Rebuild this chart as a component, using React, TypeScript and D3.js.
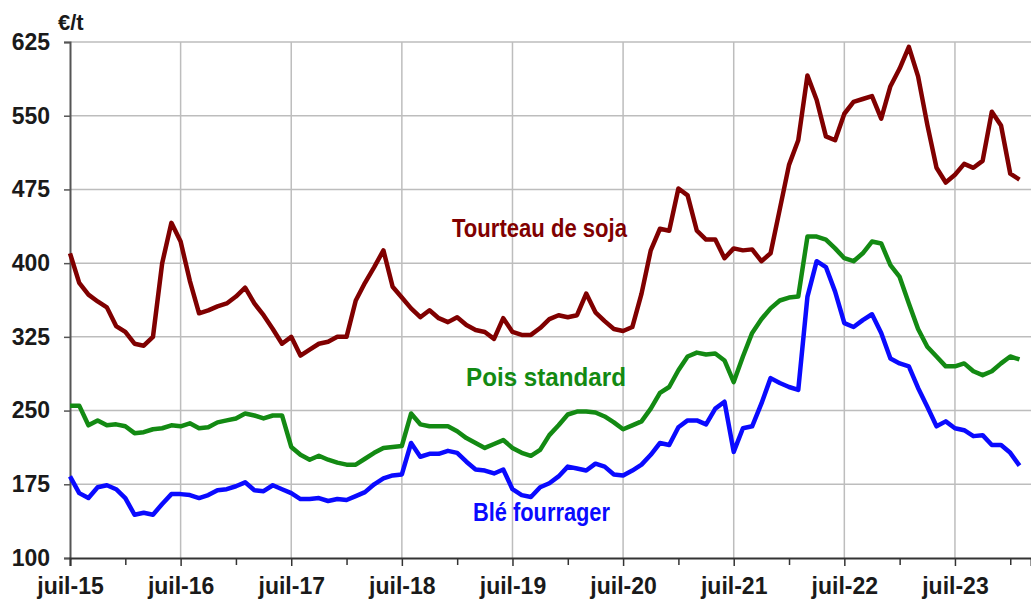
import React, { useEffect, useRef } from 'react';
import * as d3 from 'd3';

// monthly prices, juil-15 .. févr-24 (€/t)
const tourteauSoja = [
  410, 380, 368, 361, 355, 336, 330, 318, 316, 325, 400, 441,
  422, 382, 349, 352, 356, 359, 366, 375, 359, 347, 333, 318,
  325, 306, 312, 318, 320, 325, 325, 362, 380, 396, 413, 376,
  365, 354, 345, 352, 344, 340, 345, 337, 332, 330, 323, 344,
  330, 327, 327, 334, 343, 347, 345, 347, 369, 350, 341, 333,
  331, 335, 369, 413, 435, 433, 476, 469, 433, 424, 424, 405,
  415, 413, 414, 402, 410, 455, 500, 525, 591, 566, 529, 525,
  552, 564, 567, 570, 547, 580, 598, 620, 590, 541, 497, 482,
  490, 501, 497, 504, 554, 540, 491, 485,
];

const poisStandard = [
  255, 255, 235, 240, 235, 236, 234, 227, 228, 231, 232, 235,
  234, 237, 232, 233, 238, 240, 242, 247, 245, 242, 245, 245,
  213, 205, 200, 204, 200, 197, 195, 195, 201, 207, 212, 213,
  214, 247, 236, 234, 234, 234, 229, 222, 217, 212, 216, 220,
  212, 207, 204, 210, 225, 235, 246, 249, 249, 248, 244, 238,
  231, 235, 239, 252, 268, 274, 291, 305, 309, 307, 308, 301,
  279, 305, 329, 343, 354, 362, 365, 366, 427, 427, 424, 415,
  405, 402, 410, 422, 420, 398, 386, 359, 333, 315, 305, 295,
  295, 298, 290, 286, 290, 298, 305, 302,
];

const bleFourrager = [
  183, 166, 161, 172, 174, 170, 161, 144, 146, 144, 155, 165,
  165, 164, 161, 164, 169, 170, 173, 177, 169, 168, 174, 170,
  166, 160, 160, 161, 158, 160, 159, 163, 167, 175, 181, 184,
  185, 217, 203, 206, 206, 209, 207, 198, 190, 189, 186, 190,
  170, 164, 162, 172, 176, 183, 193, 191, 189, 196, 193, 185,
  184, 189, 195, 205, 217, 215, 233, 240, 240, 236, 252, 259,
  208, 232, 234, 257, 283, 278, 274, 271, 366, 402, 396, 371,
  339, 335, 342, 348, 329, 303, 298, 295, 273, 254, 234, 239,
  232, 230, 224, 225, 215, 215, 207, 194,
];

const xTickLabels = ['juil-15', 'juil-16', 'juil-17', 'juil-18', 'juil-19', 'juil-20', 'juil-21', 'juil-22', 'juil-23'];
const yTicks = [100, 175, 250, 325, 400, 475, 550, 625];

const series = [
  { name: 'Tourteau de soja', values: tourteauSoja, color: '#800000', lx: 452, ly: 237, lw: 175 },
  { name: 'Pois standard', values: poisStandard, color: '#138a13', lx: 466, ly: 386, lw: 160 },
  { name: 'Blé fourrager', values: bleFourrager, color: '#0a0aff', lx: 473, ly: 521, lw: 137 },
];

const W = 1031;
const H = 601;
const FONT = 'Liberation Sans, Arial, sans-serif';

export default function App() {
  const svgRef = useRef<SVGSVGElement>(null);

  useEffect(() => {
    const svg = d3.select(svgRef.current);
    svg.selectAll('*').remove();

    // month index -> px, ~9.22 px per month
    const x = d3.scaleLinear().domain([0, 104.25]).range([70, W]);
    const y = d3.scaleLinear().domain([100, 625]).range([558, 42]);

    const majors = xTickLabels.map((_, i) => i * 12);
    const minors = xTickLabels.map((_, i) => i * 12 + 6);

    // grid
    const grid = svg.append('g');
    grid.selectAll('.hg').data(yTicks.filter(d => d > 100)).enter().append('line')
      .attr('x1', x(0)).attr('x2', W)
      .attr('y1', d => y(d)).attr('y2', d => y(d))
      .attr('stroke', '#bdbdbd').attr('stroke-width', 1.5);
    grid.selectAll('.vg').data(majors.filter(d => d > 0)).enter().append('line')
      .attr('x1', d => x(d)).attr('x2', d => x(d))
      .attr('y1', y(625)).attr('y2', y(100))
      .attr('stroke', '#bdbdbd').attr('stroke-width', 1.5);

    // y axis
    const yAxis = svg.append('g')
      .attr('transform', `translate(${x(0)},0)`)
      .call(d3.axisLeft(y).tickValues(yTicks).tickSize(6).tickPadding(14).tickFormat(d3.format('d')));
    yAxis.select('.domain').attr('stroke', '#555').attr('stroke-width', 2);
    yAxis.selectAll('.tick line').attr('stroke', '#555').attr('stroke-width', 1.5);
    yAxis.selectAll('.tick text')
      .attr('font-family', FONT).attr('font-size', 23).attr('font-weight', 'bold').attr('fill', '#1a1a1a');

    // x axis, major + minor ticks
    const xAxis = svg.append('g')
      .attr('transform', `translate(0,${y(100)})`)
      .call(d3.axisBottom(x).tickValues(majors).tickSize(8).tickPadding(12)
        .tickFormat((_, i) => xTickLabels[i]));
    xAxis.select('.domain').attr('stroke', '#333').attr('stroke-width', 2);
    xAxis.selectAll('.tick line').attr('stroke', '#333').attr('stroke-width', 1.5);
    xAxis.selectAll('.tick text')
      .attr('font-family', FONT).attr('font-size', 23).attr('font-weight', 'bold').attr('fill', '#1a1a1a');
    svg.append('g')
      .attr('transform', `translate(0,${y(100)})`)
      .call(d3.axisBottom(x).tickValues(minors).tickSize(7).tickFormat(() => ''))
      .call(g => g.select('.domain').remove())
      .call(g => g.selectAll('.tick line').attr('stroke', '#333').attr('stroke-width', 1.5));

    // unit
    svg.append('text')
      .attr('x', 58).attr('y', 30)
      .attr('font-family', FONT).attr('font-size', 22).attr('font-weight', 'bold').attr('fill', '#1a1a1a')
      .text('€/t');

    // lines
    const line = d3.line<number>()
      .x((_, i) => x(i))
      .y(d => y(d));

    series.forEach(s => {
      svg.append('path')
        .datum(s.values)
        .attr('fill', 'none')
        .attr('stroke', s.color)
        .attr('stroke-width', 4.5)
        .attr('stroke-linejoin', 'round')
        .attr('d', line);

      svg.append('text')
        .attr('x', s.lx).attr('y', s.ly)
        .attr('font-family', FONT).attr('font-size', 25).attr('font-weight', 'bold')
        .attr('fill', s.color)
        .attr('textLength', s.lw).attr('lengthAdjust', 'spacingAndGlyphs')
        .text(s.name);
    });
  }, []);

  return (
    <svg ref={svgRef} width={W} height={H}
      style={{ position: 'absolute', left: 0, top: 0, background: '#fff' }} />
  );
}
